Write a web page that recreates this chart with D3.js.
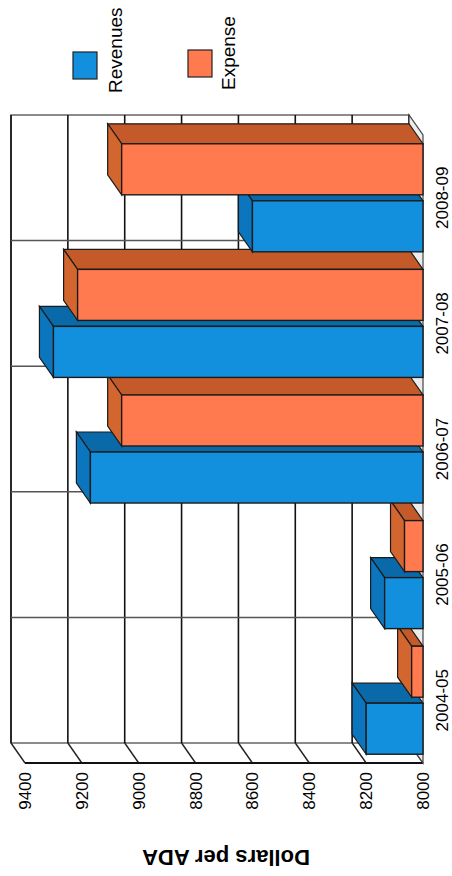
<!DOCTYPE html>
<html>
<head>
<meta charset="utf-8">
<script src="https://cdn.jsdelivr.net/npm/d3@7"></script>
<style>
  body { margin: 0; background: #fff; }
  svg { display: block; font-family: "Liberation Sans", Arial, sans-serif; }
</style>
</head>
<body>
<div id="chart"></div>
<script>
// data
const categories = ["2004-05", "2005-06", "2006-07", "2007-08", "2008-09"];
const seriesNames = ["Revenues", "Expense"];
const revenues = [8200, 8135, 9170, 9300, 8600];
const expense = [8040, 8065, 9060, 9215, 9060];
const tickValues = [8000, 8200, 8400, 8600, 8800, 9000, 9200, 9400];

const colors = {
    Revenues: {front: "#1390dd", top: "#0b76bd", side: "#0a69a8"},
    Expense: {front: "#ff7b4f", top: "#d3652f", side: "#c45a2a"}
};

// page is 452 x 876, the chart itself is drawn landscape and turned on its side
const W = 876, H = 452;
const depth = {dx: 20, dy: -14};

const svg = d3.select("#chart").append("svg")
    .attr("width", H)
    .attr("height", W);

const g = svg.append("g")
    .attr("transform", `translate(0,${W}) rotate(-90)`);

// scales
const x = d3.scaleBand().domain(categories).range([113, 741]).padding(0);
const xSub = d3.scaleBand().domain(seriesNames).range([0, x.bandwidth()])
    .paddingInner(0.105).paddingOuter(0.154);
const y = d3.scaleLinear().domain([8000, 9400]).range([423, 25]);

const x0 = x.range()[0], x1 = x.range()[1];
const yBase = y(8000), yTop = y(9400);

// back wall
const back = g.append("g").attr("transform", `translate(${depth.dx},${depth.dy})`);
back.append("rect")
    .attr("x", x0).attr("y", yTop)
    .attr("width", x1 - x0).attr("height", yBase - yTop)
    .attr("fill", "#fff").attr("stroke", "#666").attr("stroke-width", 1.5);
back.selectAll(".hgrid")
    .data(tickValues)
    .join("line")
    .attr("x1", x0).attr("x2", x1)
    .attr("y1", d => y(d)).attr("y2", d => y(d))
    .attr("stroke", "#111").attr("stroke-width", 1.6);
back.selectAll(".vgrid")
    .data(categories.slice(1))
    .join("line")
    .attr("x1", d => x(d)).attr("x2", d => x(d))
    .attr("y1", yTop).attr("y2", yBase)
    .attr("stroke", "#555").attr("stroke-width", 1.5);

// side wall (value axis wall)
g.selectAll(".sidegrid")
    .data(tickValues)
    .join("line")
    .attr("x1", x0).attr("y1", d => y(d))
    .attr("x2", x0 + depth.dx).attr("y2", d => y(d) + depth.dy)
    .attr("stroke", "#222").attr("stroke-width", 1.4);
g.append("line")
    .attr("x1", x0).attr("x2", x0)
    .attr("y1", yTop).attr("y2", yBase)
    .attr("stroke", "#111").attr("stroke-width", 2);

// floor
g.append("path")
    .attr("d", `M${x0},${yBase}L${x1},${yBase}L${x1 + depth.dx},${yBase + depth.dy}L${x0 + depth.dx},${yBase + depth.dy}Z`)
    .attr("fill", "#ececec").attr("stroke", "#444").attr("stroke-width", 1.2);

// bars, drawn left to right so that each front face covers the previous side face
const bars = [];
categories.forEach((c, i) => {
    bars.push({cat: c, name: "Revenues", value: revenues[i]});
    bars.push({cat: c, name: "Expense", value: expense[i]});
});

const barG = g.selectAll(".bar")
    .data(bars)
    .join("g")
    .attr("class", "bar");

const edge = "#1b1b1b";
barG.append("path")   // right side
    .attr("d", d => {
        const bx = x(d.cat) + xSub(d.name) + xSub.bandwidth(), by = y(d.value);
        return `M${bx},${by}L${bx + depth.dx},${by + depth.dy}L${bx + depth.dx},${yBase + depth.dy}L${bx},${yBase}Z`;
    })
    .attr("fill", d => colors[d.name].side)
    .attr("stroke", edge).attr("stroke-width", 1.2);
barG.append("path")   // top
    .attr("d", d => {
        const bx = x(d.cat) + xSub(d.name), bw = xSub.bandwidth(), by = y(d.value);
        return `M${bx},${by}L${bx + bw},${by}L${bx + bw + depth.dx},${by + depth.dy}L${bx + depth.dx},${by + depth.dy}Z`;
    })
    .attr("fill", d => colors[d.name].top)
    .attr("stroke", edge).attr("stroke-width", 1.2);
barG.append("rect")   // front
    .attr("x", d => x(d.cat) + xSub(d.name))
    .attr("y", d => y(d.value))
    .attr("width", xSub.bandwidth())
    .attr("height", d => yBase - y(d.value))
    .attr("fill", d => colors[d.name].front)
    .attr("stroke", edge).attr("stroke-width", 1.4);

// axes
const yAxis = d3.axisLeft(y).tickValues(tickValues).tickFormat(d3.format("d"))
    .tickSize(0).tickPadding(9);
const yAxisG = g.append("g").attr("transform", `translate(${x0},0)`).call(yAxis);
yAxisG.select(".domain").remove();
yAxisG.selectAll("text").attr("font-size", 17).attr("fill", "#000")
    .attr("font-family", "'Liberation Sans', Arial, sans-serif");

const xAxis = d3.axisBottom(x).tickSize(0).tickPadding(13);
const xAxisG = g.append("g").attr("transform", `translate(0,${yBase})`).call(xAxis);
xAxisG.select(".domain").remove();
xAxisG.selectAll("text").attr("font-size", 17).attr("fill", "#000")
    .attr("font-family", "'Liberation Sans', Arial, sans-serif");

// axis title
g.append("text")
    .attr("transform", `translate(18,${(yTop + yBase) / 2 + 2}) rotate(-90)`)
    .attr("text-anchor", "middle")
    .attr("dy", "0.35em")
    .attr("font-size", 22)
    .attr("font-weight", "bold")
    .text("Dollars per ADA");

// legend
const legend = [
    {name: "Revenues", sx: 797, sy: 73, tx: 783, ty: 122},
    {name: "Expense", sx: 799, sy: 188, tx: 786, ty: 235}
];
const legG = g.selectAll(".legend").data(legend).join("g");
legG.append("rect")
    .attr("x", d => d.sx).attr("y", d => d.sy)
    .attr("width", 27).attr("height", 24)
    .attr("fill", d => colors[d.name].front)
    .attr("stroke", "#222").attr("stroke-width", 1.2);
legG.append("text")
    .attr("x", d => d.tx).attr("y", d => d.ty)
    .attr("font-size", 19)
    .text(d => d.name);
</script>
</body>
</html>
